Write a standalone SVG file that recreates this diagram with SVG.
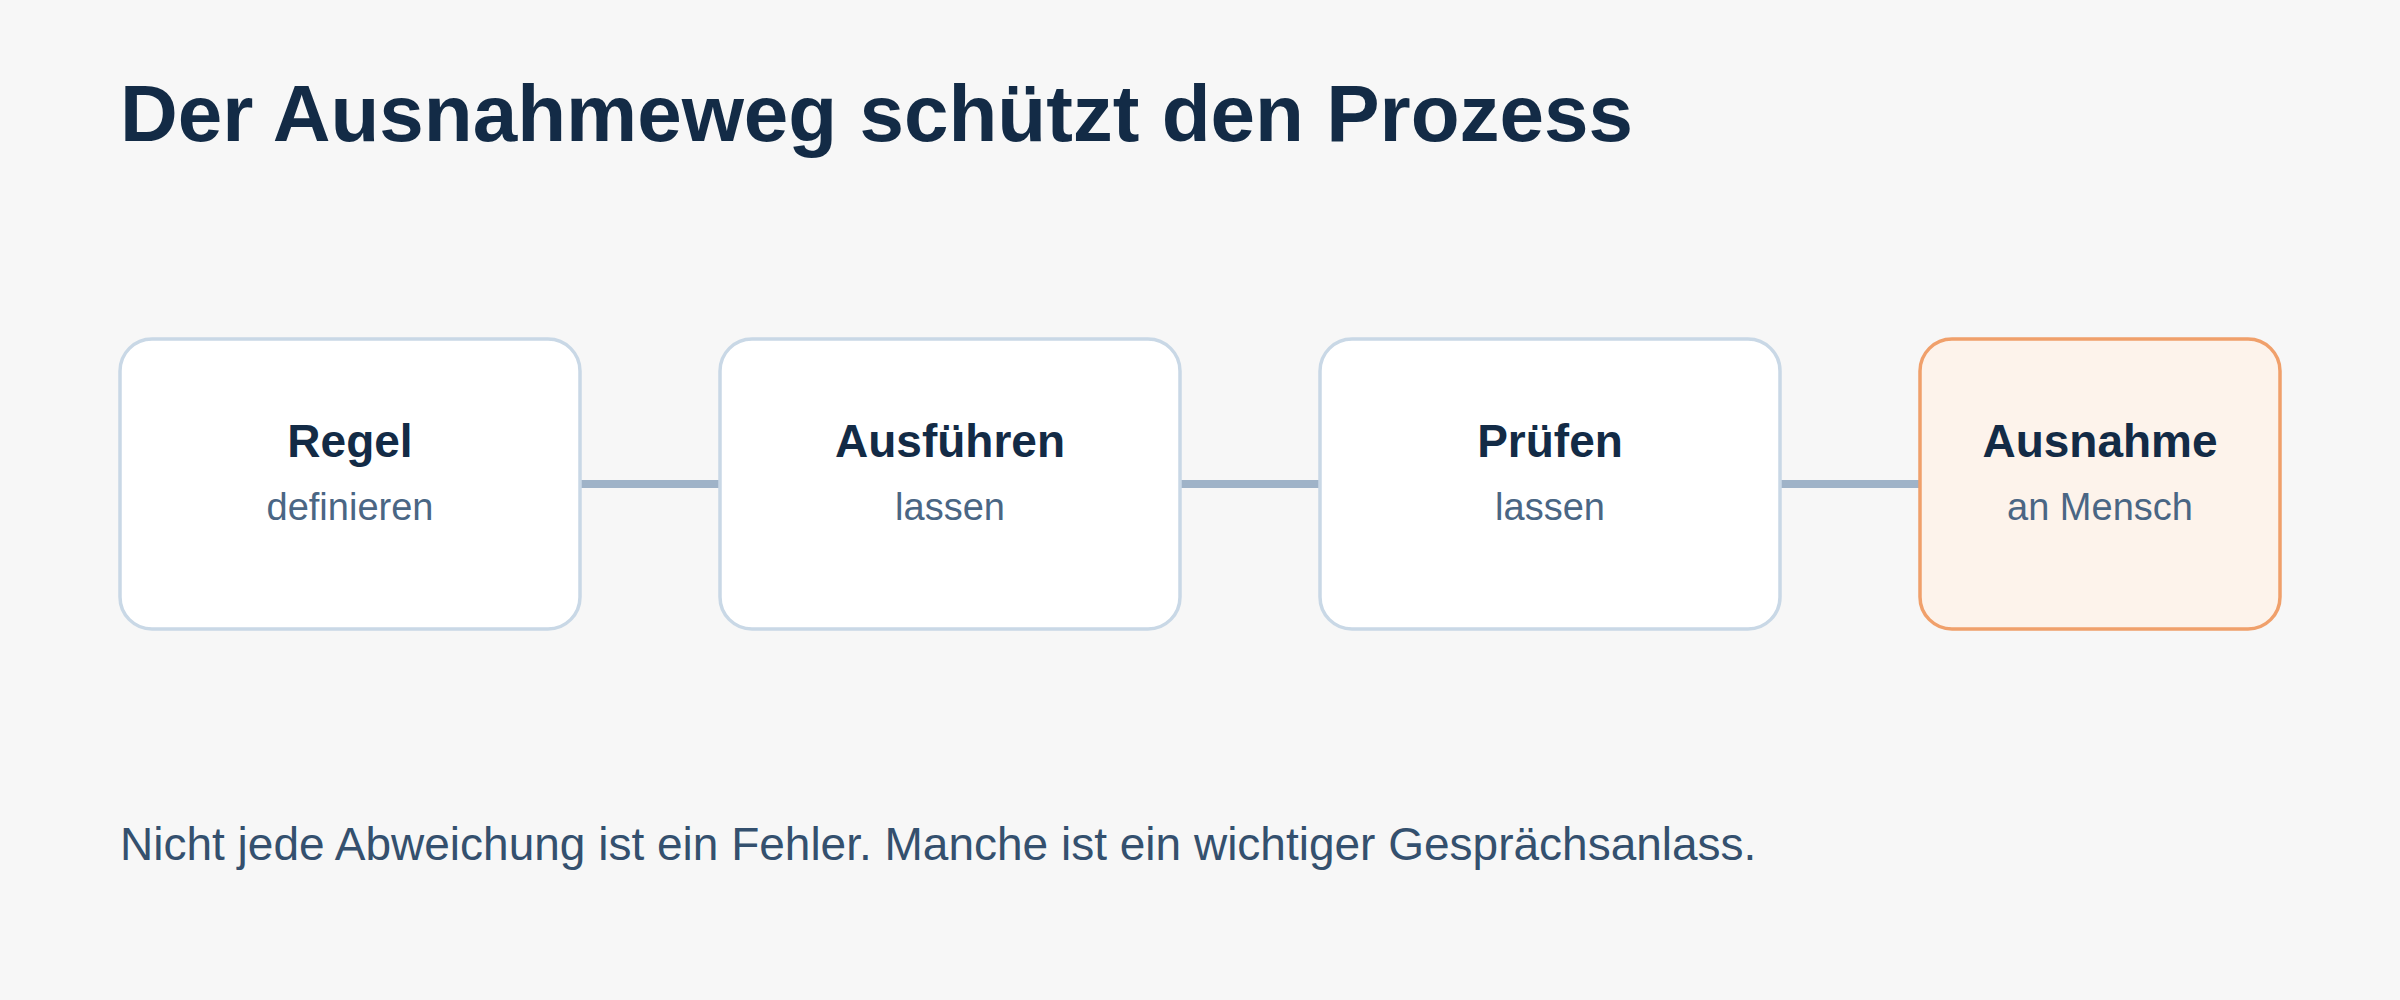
<svg xmlns="http://www.w3.org/2000/svg" width="2400" height="1000" viewBox="0 0 2400 1000">
  <style>
    .bg { fill: #f7f7f7; }
    .title { font-family: "Liberation Sans", Arial, sans-serif; font-weight: bold; font-size: 80px; fill: #132b46; }
    .node { fill: #ffffff; stroke: #c9d8e6; stroke-width: 3.5; }
    .node-hl { fill: #fdf3eb; stroke: #f0a06b; stroke-width: 3.5; }
    .ntitle { font-family: "Liberation Sans", Arial, sans-serif; font-weight: bold; font-size: 46px; fill: #132b46; text-anchor: middle; }
    .nsub { font-family: "Liberation Sans", Arial, sans-serif; font-size: 38px; fill: #4a6684; text-anchor: middle; }
    .conn { stroke: #9fb3c8; stroke-width: 8; fill: none; }
    .foot { font-family: "Liberation Sans", Arial, sans-serif; font-size: 46px; fill: #34506e; }
  </style>
  <rect class="bg" x="0" y="0" width="2400" height="1000"/>
  <text class="title" x="120" y="141">Der Ausnahmeweg schützt den Prozess</text>

  <g id="connectors">
    <line class="conn" x1="580" y1="484" x2="720" y2="484"/>
    <line class="conn" x1="1180" y1="484" x2="1320" y2="484"/>
    <line class="conn" x1="1780" y1="484" x2="1920" y2="484"/>
  </g>

  <g id="node-regel">
    <rect class="node" x="120" y="339" width="460" height="290" rx="32"/>
    <text class="ntitle" x="350" y="457">Regel</text>
    <text class="nsub" x="350" y="520">definieren</text>
  </g>
  <g id="node-ausfuehren">
    <rect class="node" x="720" y="339" width="460" height="290" rx="32"/>
    <text class="ntitle" x="950" y="457">Ausführen</text>
    <text class="nsub" x="950" y="520">lassen</text>
  </g>
  <g id="node-pruefen">
    <rect class="node" x="1320" y="339" width="460" height="290" rx="32"/>
    <text class="ntitle" x="1550" y="457">Prüfen</text>
    <text class="nsub" x="1550" y="520">lassen</text>
  </g>
  <g id="node-ausnahme">
    <rect class="node-hl" x="1920" y="339" width="360" height="290" rx="32"/>
    <text class="ntitle" x="2100" y="457">Ausnahme</text>
    <text class="nsub" x="2100" y="520">an Mensch</text>
  </g>

  <text class="foot" x="120" y="860">Nicht jede Abweichung ist ein Fehler. Manche ist ein wichtiger Gesprächsanlass.</text>
</svg>
